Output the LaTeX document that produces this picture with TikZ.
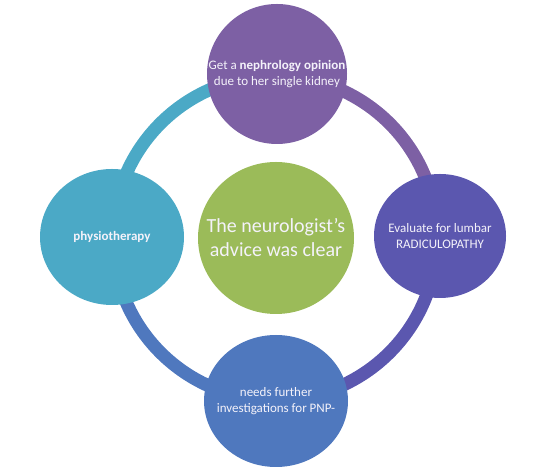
\documentclass[tikz,border=0pt]{standalone}
\usepackage{fontspec}
\setmainfont{Carlito}
\usetikzlibrary{shapes.geometric}
\definecolor{cteal}{HTML}{4BA9C6}
\definecolor{cpurple}{HTML}{7D60A4}
\definecolor{cindigo}{HTML}{5B57AF}
\definecolor{cblue}{HTML}{4F78BE}
\definecolor{cgreen}{HTML}{9BBB59}
\definecolor{ctext}{HTML}{F4F2FA}
\tikzset{
  bubble/.style={ellipse, inner sep=0pt},
  btext/.style={text=ctext, align=center, inner sep=0pt,
    font=\fontsize{13}{16}\selectfont},
  ringarc/.style={line width=13pt},
}
\begin{document}
\begin{tikzpicture}[x=1pt,y=1pt]
\useasboundingbox (0,0) rectangle (548,470);
\coordinate (rc) at (275,232);
% ring segments
\draw[ringarc, cpurple] ([shift={(0:162)}]rc) arc[start angle=0, end angle=90, radius=162];
\draw[ringarc, cteal] ([shift={(90:162)}]rc) arc[start angle=90, end angle=180, radius=162];
\draw[ringarc, cblue] ([shift={(180:162)}]rc) arc[start angle=180, end angle=270, radius=162];
\draw[ringarc, cindigo] ([shift={(270:162)}]rc) arc[start angle=270, end angle=360, radius=162];
% circles
\node[bubble, fill=cgreen, minimum width=156pt, minimum height=152pt] (center) at (276,232) {};
\node[btext, font=\fontsize{20}{24}\selectfont] (centertext) at (center) {The neurologist’s\\advice was clear};
\node[bubble, fill=cpurple, minimum width=140pt, minimum height=140pt] (top) at (277,396) {};
\node[btext] (toptext) at (top) {Get a \textbf{nephrology opinion}\\due to her single kidney};
\node[bubble, fill=cindigo, minimum width=132pt, minimum height=124pt] (right) at (440,234) {};
\node[btext] (righttext) at (right) {Evaluate for lumbar\\RADICULOPATHY};
\node[bubble, fill=cblue, minimum width=144pt, minimum height=132pt] (bottom) at (276,69) {};
\node[btext] (bottomtext) at (bottom) {needs further\\investigations for PNP-};
\node[bubble, fill=cteal, minimum width=144pt, minimum height=136pt] (left) at (112,233) {};
\node[btext] (lefttext) at (left) {\textbf{physiotherapy}};
\end{tikzpicture}
\end{document}
